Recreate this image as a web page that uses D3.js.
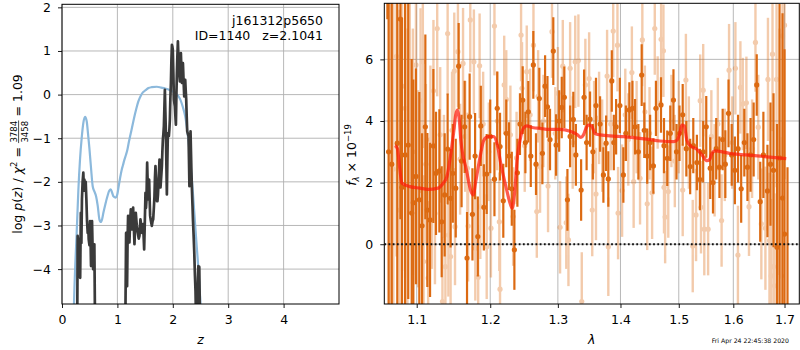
<!DOCTYPE html>
<html>
<head>
<meta charset="utf-8">
<script src="https://cdn.jsdelivr.net/npm/d3@7"></script>
<style>
  body { margin: 0; background: #fff; }
  svg { font-family: "DejaVu Sans", sans-serif; }
</style>
</head>
<body>
<svg id="chart" width="800" height="350"></svg>
<script>
// ---- left panel: p(z) ----
const zTicks = [0, 1, 2, 3, 4];
const pTicks = [-4, -3, -2, -1, 0, 1, 2];

// smooth prior-ish curve (blue)
const zBlue = [0.19, 0.217, 0.24, 0.265, 0.295, 0.325, 0.355, 0.385, 0.416, 0.446, 0.47, 0.494, 0.525, 0.554, 0.585, 0.615, 0.645, 0.675, 0.70, 0.725, 0.747, 0.785, 0.82, 0.855, 0.88, 0.905, 0.928, 0.97, 1.0, 1.018, 1.05, 1.078, 1.10, 1.127, 1.155, 1.181, 1.205, 1.23, 1.265, 1.302, 1.34, 1.38, 1.42, 1.459, 1.51, 1.561, 1.62, 1.712, 1.79, 1.862, 1.953, 2.043, 2.09, 2.134, 2.18, 2.224, 2.266, 2.29, 2.315, 2.34, 2.363, 2.385, 2.405, 2.43, 2.454, 2.475, 2.495, 2.52];
const pBlue = [-6.5, -4.77, -3.9, -3.17, -2.2, -1.49, -1.0, -0.65, -0.51, -0.61, -0.9, -1.22, -1.7, -2.1, -2.22, -2.33, -2.55, -2.86, -2.92, -2.85, -2.71, -2.5, -2.33, -2.2, -2.17, -2.25, -2.33, -2.36, -2.28, -2.14, -1.9, -1.72, -1.62, -1.49, -1.38, -1.26, -1.1, -0.95, -0.75, -0.53, -0.33, -0.15, -0.03, 0.05, 0.1, 0.15, 0.17, 0.18, 0.16, 0.14, 0.1, 0.04, -0.02, -0.11, -0.28, -0.5, -0.88, -1.15, -1.49, -1.87, -2.25, -2.65, -3.01, -3.45, -3.85, -4.25, -4.69, -5.3];

// noisy log p(z) (dark)
const zDark = [0.25, 0.27, 0.283, 0.292, 0.3, 0.31, 0.318, 0.328, 0.34, 0.35, 0.36, 0.372, 0.385, 0.395, 0.404, 0.414, 0.428, 0.44, 0.452, 0.464, 0.474, 0.482, 0.495, 0.506, 0.515, 0.524, 0.533, 0.542, 0.552, 0.562, 0.572, 0.584, 0.596, 0.61,
  1.12, 1.145, 1.157, 1.166, 1.175, 1.184, 1.193, 1.205, 1.217, 1.23, 1.242, 1.254, 1.266, 1.275, 1.284, 1.296, 1.308, 1.32, 1.332, 1.35, 1.368, 1.385, 1.398, 1.416, 1.43, 1.447, 1.465, 1.475, 1.483, 1.495, 1.507, 1.516, 1.525, 1.537, 1.546, 1.555, 1.564, 1.573, 1.582, 1.591, 1.605, 1.622, 1.635, 1.646, 1.658, 1.669, 1.678, 1.687, 1.696, 1.705, 1.714, 1.723, 1.732, 1.741, 1.75, 1.76, 1.769, 1.778, 1.79, 1.803, 1.812, 1.821, 1.83, 1.839, 1.848, 1.857, 1.866, 1.875, 1.884, 1.893, 1.902, 1.911, 1.92, 1.929, 1.938, 1.947, 1.956, 1.966, 1.975, 1.984, 1.992, 2.0, 2.01, 2.02, 2.029, 2.038, 2.047, 2.056, 2.065, 2.074, 2.083, 2.092, 2.101, 2.11, 2.119, 2.128, 2.137, 2.146, 2.155, 2.165, 2.174, 2.183, 2.195, 2.206, 2.215, 2.224, 2.233, 2.242, 2.251, 2.26, 2.272, 2.284, 2.292, 2.3, 2.31, 2.32, 2.328, 2.337, 2.346, 2.356, 2.365, 2.374, 2.387, 2.4, 2.41, 2.42, 2.44, 2.455, 2.462, 2.47, 2.478, 2.485, 2.495, 2.52];
const pDark = [-8, -6.5, -3.24, -3.9, -3.3, -4.1, -3.5, -4.2, -2.71, -3.4, -2.4, -2.0, -1.79, -2.2, -1.95, -2.1, -2.0, -2.4, -2.9, -3.17, -3.0, -3.32, -3.45, -2.9, -3.3, -3.93, -3.6, -2.9, -3.5, -4.0, -3.8, -3.43, -5.2, -8,
  -8, -5.0, -3.17, -3.9, -4.39, -3.3, -2.78, -3.1, -3.39, -2.9, -2.63, -2.9, -3.09, -2.8, -2.59, -3.0, -3.43, -3.0, -2.71, -3.0, -3.17, -3.3, -3.24, -2.86, -3.0, -3.17, -2.97, -3.3, -3.55, -2.9, -2.25, -2.6, -2.4, -1.56, -2.0, -2.4, -2.1, -1.95, -2.4, -2.78, -2.9, -3.01, -2.9, -2.86, -2.6, -2.33, -1.9, -1.64, -1.9, -2.25, -2.44, -2.44, -2.3, -2.06, -1.8, -1.49, -1.8, -2.13, -1.9, -1.64, -1.3, -1.03, -0.9, -0.72, -0.3, 0.11, -0.4, -0.88, -1.6, -2.29, -1.5, -0.88, -0.9, -0.95, -0.8, -0.57, -0.1, 0.27, 0.8, 1.14, 1.1, 1.03, 0.5, -0.11, -0.2, -0.27, -0.5, -0.69, 0.0, 0.5, 0.9, 1.22, 0.9, 0.65, 0.45, 0.3, 0.6, 0.95, 0.6, 0.27, 0.5, 0.72, 0.3, -0.04, 0.2, 0.34, 0.1, -0.11, -0.5, -0.84, -0.9, -0.95, -1.5, -2.1, -1.4, -0.84, -1.3, -1.79, -2.2, -2.56, -2.9, -3.17, -3.6, -4.16, -4.5, -5.2, -5.5, -4.2, -3.93, -4.3, -3.95, -4.6, -6, -8];

// ---- right panel: spectrum ----
const lamTicks = [1.1, 1.2, 1.3, 1.4, 1.5, 1.6, 1.7];
const fluxTicks = [0, 2, 4, 6];

const darkWave = [1.0625, 1.064, 1.068, 1.075, 1.079, 1.081, 1.085, 1.089, 1.0935, 1.0956, 1.099, 1.1034, 1.107, 1.1113, 1.1139, 1.1175, 1.1219, 1.1254, 1.1299, 1.133, 1.137, 1.141, 1.145, 1.148, 1.152, 1.156, 1.16, 1.1642, 1.1675, 1.1711, 1.175, 1.1787, 1.1825, 1.1867, 1.191, 1.195, 1.2, 1.206, 1.21, 1.214, 1.2187, 1.223, 1.227, 1.231, 1.2348, 1.2392, 1.243, 1.247, 1.251, 1.2553, 1.259, 1.2628, 1.2668, 1.2718, 1.2764, 1.2805, 1.2841, 1.288, 1.293, 1.2973, 1.302, 1.306, 1.31, 1.3148, 1.319, 1.324, 1.328, 1.3363, 1.341, 1.345, 1.3505, 1.355, 1.36, 1.3666, 1.372, 1.3764, 1.38, 1.3857, 1.389, 1.3928, 1.399, 1.4048, 1.409, 1.4148, 1.42, 1.4244, 1.43, 1.4356, 1.44, 1.445, 1.45, 1.4556, 1.46, 1.4688, 1.474, 1.4797, 1.485, 1.4906, 1.496, 1.5013, 1.507, 1.5135, 1.5204, 1.526, 1.5325, 1.538, 1.544, 1.5496, 1.5569, 1.562, 1.568, 1.574, 1.58, 1.585, 1.591, 1.597, 1.603, 1.609, 1.615, 1.621, 1.627, 1.633, 1.639, 1.645, 1.6518, 1.658, 1.666, 1.672, 1.678, 1.685, 1.69, 1.696, 1.7, 1.706];
const darkFlux = [9.5, 3.0, 2.6, 3.28, 7.31, 1.85, 2.9, 3.22, 1.01, 1.35, 2.2, 1.44, 0.6, 3.81, 1.11, 0.79, 3.19, 2.3, 2.38, 0.73, 1.6, 3.09, 1.49, 2.3, 1.82, 5.78, 2.7, 3.81, -0.45, 4.14, 0.97, 2.86, 0.25, 3.84, 1.2, 2.28, 3.5, 2.11, 4.41, 3.17, 1.41, 3.6, 2.86, 1.8, -0.18, 2.32, 3.9, 4.68, 3.3, 4.3, 2.86, 5.82, 2.6, 4.73, 2.95, 5.13, 4.46, 3.4, 6.27, 3.22, 4.0, 4.44, 4.77, 1.44, 3.5, 4.05, 2.9, 1.76, 4.77, 3.3, 4.06, 3.0, 4.5, 3.9, 2.25, 3.28, 2.12, 5.3, 3.3, 3.81, 4.5, 2.25, 3.6, 4.36, 4.41, 3.81, 3.0, 5.49, 3.7, 2.86, 3.3, 2.54, 4.41, 4.52, 3.2, 2.79, 3.6, 4.68, 3.0, 3.6, 4.2, 3.1, 2.52, 3.2, 2.65, 2.1, 3.0, 3.81, 2.47, 2.0, 3.1, 2.5, 3.4, 2.6, 4.25, 2.9, 2.4, 3.1, 1.8, 3.3, 2.5, 2.9, 3.4, 5.17, 1.38, 2.9, 1.73, 2.6, 2.4, -0.1, 2.8, 1.5, 0.33, -2.5];
const darkErr = [2.2, 7.0, 6.5, 6.0, 6.5, 5.5, 5.0, 5.0, 5.0, 4.0, 3.5, 3.5, 3.0, 3.0, 2.5, 2.5, 2.5, 2.0, 2.0, 1.8, 2.0, 1.8, 1.6, 1.6, 1.6, 1.4, 1.5, 1.5, 1.5, 1.4, 1.5, 1.4, 1.3, 1.3, 1.4, 1.3, 1.2, 1.2, 1.2, 1.1, 1.2, 1.1, 1.1, 1.2, 1.3, 1.1, 1.0, 1.1, 1.0, 1.0, 1.0, 1.1, 1.0, 1.0, 1.0, 1.0, 1.0, 1.0, 1.1, 1.0, 1.0, 1.0, 1.0, 1.0, 1.0, 0.9, 1.0, 1.0, 0.9, 0.9, 0.9, 0.9, 0.9, 0.9, 0.9, 0.9, 0.9, 1.0, 0.9, 0.9, 0.9, 0.9, 0.9, 0.9, 0.9, 0.9, 0.9, 1.0, 0.9, 0.9, 0.9, 0.9, 0.9, 0.9, 0.9, 0.9, 0.9, 1.0, 0.9, 0.9, 1.0, 0.9, 0.9, 0.9, 0.9, 1.0, 1.0, 1.0, 1.0, 1.0, 1.0, 1.0, 1.0, 1.1, 1.1, 1.0, 1.1, 1.1, 1.1, 1.1, 1.1, 1.2, 1.2, 1.0, 1.3, 1.4, 1.5, 2.0, 2.5, 4.0, 5.0, 6.0, 6.0, 5.0];

const lightWave = [1.066, 1.07, 1.074, 1.078, 1.081, 1.085, 1.088, 1.091, 1.095, 1.099, 1.102, 1.105, 1.108, 1.109, 1.112, 1.115, 1.118, 1.12, 1.122, 1.124, 1.127, 1.131, 1.134, 1.136, 1.138, 1.141, 1.142, 1.145, 1.147, 1.15, 1.151, 1.155, 1.158, 1.162, 1.165, 1.168, 1.169, 1.172, 1.177, 1.179, 1.183, 1.185, 1.186, 1.19, 1.195, 1.198, 1.201, 1.206, 1.21, 1.213, 1.214, 1.22, 1.223, 1.229, 1.233, 1.238, 1.2446, 1.246, 1.25, 1.253, 1.258, 1.263, 1.268, 1.27, 1.2729, 1.278, 1.285, 1.291, 1.296, 1.3, 1.3034, 1.3076, 1.313, 1.3164, 1.319, 1.323, 1.327, 1.332, 1.3373, 1.343, 1.349, 1.354, 1.357, 1.36, 1.365, 1.37, 1.378, 1.38, 1.384, 1.388, 1.395, 1.396, 1.4027, 1.408, 1.413, 1.419, 1.422, 1.427, 1.4328, 1.4367, 1.441, 1.445, 1.449, 1.4534, 1.458, 1.463, 1.469, 1.473, 1.474, 1.476, 1.4815, 1.487, 1.493, 1.5, 1.507, 1.5127, 1.518, 1.525, 1.531, 1.5385, 1.54, 1.544, 1.546, 1.553, 1.559, 1.565, 1.571, 1.578, 1.584, 1.592, 1.598, 1.604, 1.6088, 1.6135, 1.618, 1.625, 1.63, 1.636, 1.6425, 1.648, 1.654, 1.662, 1.667, 1.67, 1.6734, 1.676, 1.678, 1.68, 1.684, 1.69, 1.694, 1.696, 1.7];
const lightFlux = [4.0, 2.44, 6.1, 1.11, 5.13, 4.41, 2.0, 5.49, 3.0, 5.82, 1.8, 4.66, 5.92, -0.56, 2.6, -1.1, 3.4, 1.6, 4.98, 1.0, 7.0, 3.55, -1.86, 2.2, -0.73, 6.84, 0.3, -0.4, 3.7, 5.62, 0.57, 6.25, 2.76, 5.87, 3.5, 2.47, 0.59, 7.28, 5.92, -0.13, -1.07, 5.79, 1.22, 3.9, -0.08, 3.0, 0.52, 7.08, 4.0, 0.73, -1.46, 5.17, 4.7, 3.55, 0.9, 2.8, 6.79, 5.06, 3.2, 5.6, 4.2, 6.46, 1.06, 4.8, 2.52, 4.0, 1.89, 6.9, 3.6, 4.9, 0.55, 5.78, 0.7, 0.14, 5.71, 3.3, 5.92, 5.96, -1.86, 5.17, 5.38, 1.11, 3.8, 1.63, 4.1, 3.2, 5.46, -0.08, 3.9, 6.92, 6.46, 1.01, 1.74, 4.2, 3.4, 5.57, 2.03, 3.8, 2.14, 6.63, 4.3, 1.31, 3.6, 1.67, 7.0, 4.6, 6.65, 6.28, 1.85, 0.88, 1.71, 4.0, 2.7, 3.8, 1.76, 5.33, 3.3, -0.06, 0.95, 4.66, 1.2, 5.0, 0.49, 0.49, 3.5, 2.4, 3.9, 0.77, 2.9, 5.65, 3.3, 5.71, -0.35, 5.09, 4.55, 4.59, 1.22, 3.1, 6.55, 3.8, 0.66, 0.52, 5.35, 0.12, -1.03, 6.17, -0.73, -1.35, 5.35, 3.0, -1.03, 6.76, 7.11];
const lightErr = [7.5, 7.0, 6.5, 6.5, 6.0, 5.5, 5.0, 4.5, 4.0, 3.5, 3.2, 3.0, 2.8, 2.8, 2.6, 2.5, 2.4, 2.4, 2.3, 2.3, 2.2, 2.2, 2.1, 2.0, 2.0, 2.0, 2.0, 1.9, 1.9, 1.9, 1.9, 1.8, 1.8, 1.8, 1.8, 1.8, 1.8, 1.7, 1.7, 1.7, 1.7, 1.7, 1.7, 1.7, 1.7, 1.6, 1.6, 1.6, 1.6, 1.6, 1.6, 1.6, 1.6, 1.6, 1.6, 1.5, 1.5, 1.5, 1.5, 1.5, 1.5, 1.5, 1.5, 1.5, 1.5, 1.5, 1.5, 1.5, 1.5, 1.5, 1.5, 1.5, 1.5, 1.5, 1.5, 1.5, 1.5, 1.5, 1.6, 1.5, 1.5, 1.5, 1.5, 1.5, 1.5, 1.5, 1.5, 1.6, 1.5, 1.5, 1.5, 1.5, 1.5, 1.5, 1.5, 1.5, 1.5, 1.5, 1.5, 1.5, 1.5, 1.5, 1.5, 1.5, 1.5, 1.5, 1.5, 1.5, 1.5, 1.5, 1.5, 1.5, 1.5, 1.5, 1.5, 1.5, 1.5, 1.5, 1.5, 1.5, 1.5, 1.5, 1.5, 1.5, 1.5, 1.5, 1.5, 1.5, 1.5, 1.5, 1.5, 1.5, 1.6, 1.5, 1.5, 1.5, 1.6, 1.6, 1.6, 1.7, 1.8, 2.0, 2.0, 2.2, 2.5, 2.5, 3.0, 3.0, 3.5, 4.0, 4.5, 5.0, 5.0];

// best-fit template (red)
const modelWave = [1.072, 1.075, 1.078, 1.0806, 1.083, 1.0913, 1.1043, 1.115, 1.128, 1.135, 1.14, 1.1447, 1.149, 1.152, 1.1545, 1.157, 1.159, 1.1667, 1.173, 1.176, 1.18, 1.1857, 1.191, 1.197, 1.205, 1.2095, 1.215, 1.2225, 1.2285, 1.2316, 1.235, 1.2392, 1.2431, 1.248, 1.253, 1.263, 1.2729, 1.283, 1.3034, 1.319, 1.3295, 1.336, 1.34, 1.344, 1.348, 1.353, 1.358, 1.3666, 1.388, 1.4048, 1.4216, 1.444, 1.467, 1.4906, 1.497, 1.5025, 1.5055, 1.51, 1.5144, 1.5204, 1.5325, 1.5417, 1.551, 1.556, 1.56, 1.566, 1.58, 1.599, 1.624, 1.6518, 1.676, 1.7035];
const modelFlux = [3.2, 3.11, 2.5, 2.0, 1.95, 1.87, 1.82, 1.78, 1.82, 1.98, 2.19, 2.84, 3.6, 4.2, 4.35, 4.0, 3.38, 2.41, 1.71, 1.6, 2.09, 2.84, 3.38, 3.49, 3.49, 3.28, 2.63, 1.87, 1.33, 1.17, 1.65, 2.84, 3.38, 3.76, 3.84, 3.78, 3.76, 3.73, 3.73, 3.67, 3.57, 3.47, 3.55, 3.76, 3.87, 3.84, 3.6, 3.55, 3.51, 3.49, 3.46, 3.41, 3.35, 3.33, 3.38, 3.65, 3.87, 3.84, 3.38, 3.2, 3.08, 2.9, 2.71, 2.75, 2.95, 3.03, 3.0, 2.93, 2.9, 2.86, 2.82, 2.78];

const FS = 12.5;
const orange = "#dc6a12";
const svg = d3.select("#chart");

// ---- panel frames ----
const L = { x0: 62, x1: 339, y0: 4.3, y1: 304 };
const R = { x0: 384.3, x1: 799.3, y0: 3.3, y1: 304 };

const xz = d3.scaleLinear().domain([0, 5]).range([L.x0, L.x1]);
const yp = d3.scaleLinear().domain([-4.8, 2.07]).range([L.y1, L.y0]);
const xl = d3.scaleLog().domain([1.0586, 1.730]).range([R.x0, R.x1]);
const yf = d3.scaleLinear().domain([-1.94, 7.82]).range([R.y1, R.y0]);

const defs = svg.append("defs");
[["clipL", L], ["clipR", R]].forEach(([id, b]) => {
  defs.append("clipPath").attr("id", id).append("rect")
    .attr("x", b.x0).attr("y", b.y0).attr("width", b.x1 - b.x0).attr("height", b.y1 - b.y0);
});

function grid(b, xs, xt, ys, yt) {
  const g = svg.append("g").attr("stroke", "#b0b0b0").attr("stroke-width", 0.9);
  g.selectAll(".gx").data(xt).join("line")
    .attr("x1", d => xs(d)).attr("x2", d => xs(d)).attr("y1", b.y0).attr("y2", b.y1);
  g.selectAll(".gy").data(yt).join("line")
    .attr("x1", b.x0).attr("x2", b.x1).attr("y1", d => ys(d)).attr("y2", d => ys(d));
}
grid(L, xz, zTicks, yp, pTicks);
grid(R, xl, lamTicks, yf, fluxTicks);

// ---- left curves ----
const gl = svg.append("g").attr("clip-path", "url(#clipL)");
gl.append("path")
  .datum(d3.zip(zBlue, pBlue))
  .attr("fill", "none").attr("stroke", "#8cb9dc").attr("stroke-width", 2.2)
  .attr("d", d3.line().x(d => xz(d[0])).y(d => yp(d[1])).curve(d3.curveMonotoneX));
gl.append("path")
  .datum(d3.zip(zDark, pDark))
  .attr("fill", "none").attr("stroke", "#3a3a3a").attr("stroke-width", 2.7)
  .attr("stroke-linejoin", "round")
  .attr("d", d3.line().x(d => xz(d[0])).y(d => yp(d[1])));

// ---- right spectrum ----
const gr = svg.append("g").attr("clip-path", "url(#clipR)");
const light = d3.zip(lightWave, lightFlux, lightErr);
const dark = d3.zip(darkWave, darkFlux, darkErr);

const gLight = gr.append("g").attr("opacity", 0.35);
gLight.selectAll("line").data(light).join("line")
  .attr("x1", d => xl(d[0])).attr("x2", d => xl(d[0]))
  .attr("y1", d => yf(d[1] - d[2])).attr("y2", d => yf(d[1] + d[2]))
  .attr("stroke", orange).attr("stroke-width", 2.4);
gLight.selectAll("circle").data(light).join("circle")
  .attr("cx", d => xl(d[0])).attr("cy", d => yf(d[1])).attr("r", 2.6)
  .attr("fill", orange);

gr.append("g").selectAll("line").data(dark).join("line")
  .attr("x1", d => xl(d[0])).attr("x2", d => xl(d[0]))
  .attr("y1", d => yf(d[1] - d[2])).attr("y2", d => yf(d[1] + d[2]))
  .attr("stroke", orange).attr("stroke-width", 2.2);
gr.append("g").selectAll("circle").data(dark).join("circle")
  .attr("cx", d => xl(d[0])).attr("cy", d => yf(d[1])).attr("r", 2.6)
  .attr("fill", orange);

gr.append("line")
  .attr("x1", R.x0).attr("x2", R.x1).attr("y1", yf(0)).attr("y2", yf(0))
  .attr("stroke", "#111").attr("stroke-width", 1.8).attr("stroke-dasharray", "1.8,2.4");

gr.append("path")
  .datum(d3.zip(modelWave, modelFlux))
  .attr("fill", "none").attr("stroke", "#ff1a0a").attr("stroke-opacity", 0.72)
  .attr("stroke-width", 3.2).attr("stroke-linejoin", "round")
  .attr("d", d3.line().x(d => xl(d[0])).y(d => yf(d[1])).curve(d3.curveMonotoneX));

// ---- axes ----
function axes(b, xs, xt, xfmt, ys, yt) {
  const ax = svg.append("g").attr("transform", `translate(0,${b.y1})`)
    .call(d3.axisBottom(xs).tickValues(xt).tickFormat(xfmt).tickSize(4).tickPadding(7));
  const ay = svg.append("g").attr("transform", `translate(${b.x0},0)`)
    .call(d3.axisLeft(ys).tickValues(yt).tickFormat(d3.format("d")).tickSize(4).tickPadding(7));
  [ax, ay].forEach(a => {
    a.select(".domain").remove();
    a.selectAll("text").attr("font-size", FS).attr("font-family", "DejaVu Sans").attr("fill", "#000");
    a.selectAll("line").attr("stroke", "#000").attr("stroke-width", 0.9);
  });
  svg.append("rect").attr("x", b.x0).attr("y", b.y0)
    .attr("width", b.x1 - b.x0).attr("height", b.y1 - b.y0)
    .attr("fill", "none").attr("stroke", "#000").attr("stroke-width", 1);
}
axes(L, xz, zTicks, d3.format("d"), yp, pTicks);
axes(R, xl, lamTicks, d3.format(".1f"), yf, fluxTicks);

// ---- labels ----
svg.append("text").attr("x", (L.x0 + L.x1) / 2).attr("y", 344)
  .attr("text-anchor", "middle").attr("font-size", FS).attr("font-style", "italic").text("z");
svg.append("text").attr("x", (R.x0 + R.x1) / 2).attr("y", 344)
  .attr("text-anchor", "middle").attr("font-size", FS).attr("font-style", "italic").text("λ");

svg.append("text").attr("x", 323).attr("y", 25).attr("text-anchor", "end")
  .attr("font-size", FS).text("j161312p5650");
svg.append("text").attr("x", 323).attr("y", 40).attr("text-anchor", "end")
  .attr("font-size", FS).style("white-space", "pre").text("ID=1140   z=2.1041");

svg.append("text").attr("x", 789).attr("y", 343).attr("text-anchor", "end")
  .attr("font-size", 6.2).text("Fri Apr 24 22:45:38 2020");

// rotated y label built piece by piece
function rotLabel(cx, cy, pieces) {
  const g = svg.append("g");
  let x = 0;
  pieces.forEach(p => {
    if (p.frac) {
      const n = g.append("text").attr("font-size", 8.5).attr("y", -4.6).text(p.frac[0]);
      const d = g.append("text").attr("font-size", 8.5).attr("y", 6.2).text(p.frac[1]);
      const wn = n.node().getComputedTextLength(), wd = d.node().getComputedTextLength();
      const w = Math.max(wn, wd) + 1;
      n.attr("x", x + (w - wn) / 2);
      d.attr("x", x + (w - wd) / 2);
      g.append("line").attr("x1", x).attr("x2", x + w).attr("y1", -3.4).attr("y2", -3.4)
        .attr("stroke", "#000").attr("stroke-width", 0.7);
      x += w;
      return;
    }
    const t = g.append("text").attr("x", x).attr("y", p.dy || 0)
      .attr("font-size", p.size || FS).style("white-space", "pre")
      .attr("font-style", p.it ? "italic" : null).text(p.t);
    x += t.node().getComputedTextLength();
  });
  g.attr("transform", `translate(${cx},${cy + x / 2}) rotate(-90)`);
}
rotLabel(22, 154, [
  { t: "log " }, { t: "p", it: true }, { t: "(" }, { t: "z", it: true }, { t: ") / " },
  { t: "χ", it: true }, { t: "2", size: 8.5, dy: -5 }, { t: " = " },
  { frac: ["3784", "3458"] }, { t: " = 1.09" }
]);
rotLabel(356, 155, [
  { t: "f", it: true }, { t: "λ", it: true, size: 8.5, dy: 3 }, { t: " × 10" },
  { t: "−19", size: 8.5, dy: -5 }
]);
</script>
</body>
</html>
